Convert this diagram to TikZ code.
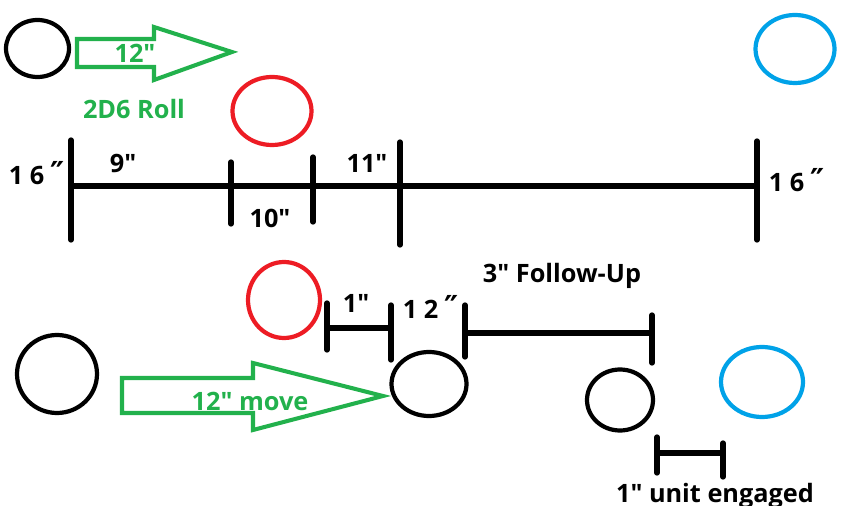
\documentclass[tikz,border=0pt]{standalone}
\usepackage{fontspec}
\setmainfont{Open Sans}[Ligatures=TeXOff]
\newfontfamily\primefont{DejaVu Sans}
\usetikzlibrary{shapes.geometric}
\definecolor{paintgreen}{RGB}{34,177,76}
\definecolor{paintred}{RGB}{237,28,36}
\definecolor{paintblue}{RGB}{0,162,232}
\newcommand{\dprime}{{\primefont\fontsize{18}{18}\selectfont ″}}
\tikzset{
  unit/.style 2 args={draw,ellipse,line width=2.4pt,inner sep=0pt,
    minimum width=#1*0.02cm,minimum height=#2*0.02cm},
  bar/.style={line width=3pt,line cap=round},
  move/.style={draw=paintgreen,line width=2.3pt,line join=miter},
  lbl/.style={font=\bfseries\fontsize{14.4}{17}\selectfont,anchor=base,inner sep=0pt},
}
\begin{document}
\begin{tikzpicture}[x=0.02cm,y=-0.02cm]
		\useasboundingbox (0,0) rectangle (855,506);
		% before the roll
		\node[unit={63}{57}] (atk) at (37.5,48.5) {};
		\draw[move] (77,39)--(154,39)--(154,27)--(232,52)--(154,80)--(154,67)--(77,67)--cycle;
		\node[lbl,text=paintgreen] (charge) at (135,63) {12"};
		\node[lbl,text=paintgreen] (roll) at (134,119) {2D6 Roll};
		\node[unit={79}{68},draw=paintred] (enemy) at (272,111) {};
		\node[unit={79}{68},draw=paintblue] (target) at (795,49) {};
		\coordinate (L) at (71,186);
		\coordinate (R) at (757,186);
		\draw[bar] (L)--(R);
		\draw[bar] (71,140)--(71,240) (231,162)--(231,224) (313,157)--(313,222)
			(400,142)--(400,245) (757,141)--(757,240);
		\node[lbl] (lft) at (37,185) {1 6 \dprime};
		\node[lbl] (nine) at (123,173) {9"};
		\node[lbl] (ten) at (270,228) {10"};
		\node[lbl] (eleven) at (367,173) {11"};
		\node[lbl] (rgt) at (797,192) {1 6 \dprime};
		% after the move
		\node[unit={72}{76},draw=paintred] (enemyB) at (284,300) {};
		\node[unit={80}{78}] (start) at (57,374) {};
		\draw[move] (122,378)--(253,378)--(253,363)--(383,396)--(253,430)--(253,413)--(122,413)--cycle;
		\node[lbl,text=paintgreen] (moved) at (250,410) {12" move};
		\node[unit={75}{64}] (atkB) at (429,384) {};
		\node[unit={66}{61}] (friend) at (620,400) {};
		\node[unit={82}{70},draw=paintblue] (targetB) at (762,382) {};
		\draw[bar] (327,303)--(327,350) (391,305)--(391,360) (327,328)--(391,328);
		\node[lbl] (gap) at (356,313) {1"};
		\node[lbl] (twelve) at (431,319) {1 2 \dprime};
		\draw[bar] (465,305)--(465,357) (652,315)--(652,363) (465,333)--(652,333);
		\node[lbl] (follow) at (562,283) {3" Follow-Up};
		\draw[bar] (657,437)--(657,473) (723,443)--(723,477) (657,453)--(723,453);
		\node[lbl] (engaged) at (715,502) {1" unit engaged};
	\end{tikzpicture}
\end{document}
